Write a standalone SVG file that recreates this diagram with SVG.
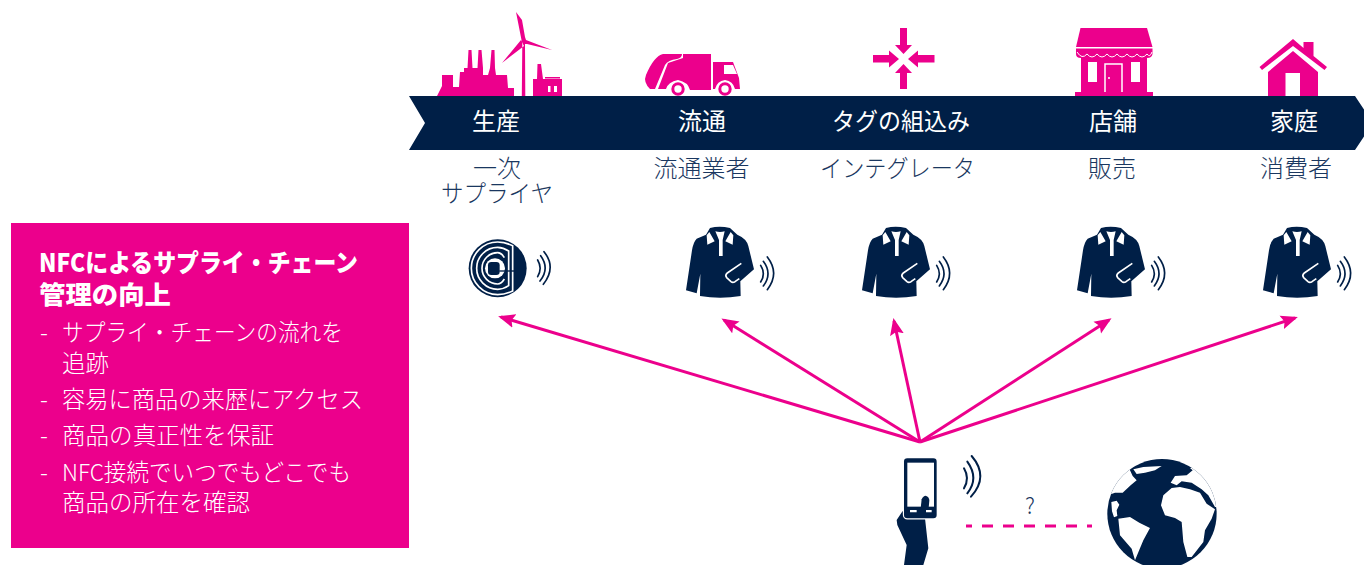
<svg xmlns="http://www.w3.org/2000/svg" xmlns:xlink="http://www.w3.org/1999/xlink" width="1364" height="565" viewBox="0 0 1364 565">
<style>
text{font-family:"Noto Sans CJK JP","Noto Sans",sans-serif}
.p{fill:#ec008c}.n{fill:#001f47}
.band{font-size:24px;fill:#fff;text-anchor:middle}
.sub{font-size:24px;fill:#1a3760;text-anchor:middle;font-weight:300}
.h{font-size:25px;fill:#fff;font-weight:900}
.b{font-size:23.5px;fill:#fff;font-weight:300}
.w{fill:none;stroke:#001f47;stroke-linecap:round}
.link{stroke:#ec008c;stroke-width:3;fill:none}
</style>
<defs>
<marker id="ah" markerUnits="userSpaceOnUse" markerWidth="18" markerHeight="15" refX="14" refY="7.500" orient="auto"><path d="M17,7.500 L0,0.500 L3,7.500 L0,14.500 Z" fill="#ec008c"/></marker>
<clipPath id="gc"><circle cx="186" cy="185" r="164"/></clipPath>
<g id="shirt">
<path class="n" d="M78,38 L50,50 Q40,60 36,85 L18,205 L50,214 L61,155 L60,222 Q120,233 182,222 L181,178 L222,142 L205,72 Q200,50 172,38 L150,18 Q118,10 90,18 Z"/>
<path fill="#fff" d="M80,40 L88,30 L104,58 L82,68 Z M160,40 L152,30 L136,58 L158,68 Z M106,28 Q120,32 134,28 L128,54 L128,102 L117,102 L117,54 Z"/>
<path fill="none" stroke="#fff" stroke-width="5" d="M184,124 L142,153 Q134,160 140,167 L153,179 Q158,183 165,179 L178,170"/>
<path class="w" stroke-width="5" d="M242,130 Q258,155 242,180 M250,118 Q278,155 250,192 M262,105 Q300,154 262,203"/>
</g>
</defs>

<g id="ribbon"><path class="n" d="M409,96 H1355 L1373,123 L1355,150 H409 L425,123 Z"/></g>

<g id="node-production">
<path class="p" d="M437,96 L442,86 L442,75 H453 V87 H459 L460,72 H464 V68 H467.500 L468.500,50 H471.500 L472.500,68 H477.500 L478.500,50 H481.500 L483,68 V75 H488 L490,68 L491.500,50 H494.500 L495,68 L496,75 H507 L508,88 H514 V96 Z"/>
<path class="p" d="M521.800,96 L522.300,44 L516,12 L522,20 L525,37 L526,40 L552,50 L527,44 L525,44 L525.300,96 Z M521,40 L502,63 L524,46 Z"/>
<path class="p" d="M533,96 V79 H537 L537.500,64 H541 L543,79 H562 V96 Z M545,77 H560 V78.500 H545 Z"/>
<path fill="#fff" d="M548,86 h2.500 v6 h-2.500 Z M554,86 h3 v6 h-3 Z"/>
<text class="band" x="496" y="130">生産</text>
<text class="sub" x="497" y="177">一次</text>
<text class="sub" x="497" y="202" textLength="112" lengthAdjust="spacingAndGlyphs">サプライヤ</text>
</g>

<g id="node-distribution">
<path class="p" d="M650,89 L655,89 L665,65 Q668,60 677,59 Q682,58 682,54 H663 Q654,56 646,75 Q643,82 650,89 Z"/>
<path class="p" d="M658,89 L668,63 L683,58 V54 H711 V90 H690 Q688,82 678,80 Q668,82 666,89 Z"/>
<path class="p" d="M713,62 H733 L739,78 L740,89 H735 Q733,81 725,80 Q717,81 715,89 H713 Z"/>
<path fill="#fff" d="M724,65 H733 L737,74 H724 Z"/>
<circle cx="678" cy="89" r="5.200" fill="#fff" stroke="#ec008c" stroke-width="3"/>
<circle cx="725" cy="89" r="5.200" fill="#fff" stroke="#ec008c" stroke-width="3"/>
<text class="band" x="702" y="130">流通</text>
<text class="sub" x="701.500" y="177">流通業者</text>
</g>

<g id="node-integration">
<path class="p" d="M900,28 H907 V45 H912 L903.500,54 L895,45 H900 Z M900,89 H907 V73 H912 L903.500,64 L895,73 H900 Z M873,55 H889 V50.500 L899,59 L889,67.500 V62.500 H873 Z M934.500,55 H918 V50.500 L908,59 L918,67.500 V62.500 H934.500 Z"/>
<text class="band" x="901" y="130" textLength="138" lengthAdjust="spacingAndGlyphs">タグの組込み</text>
<text class="sub" x="897.500" y="177" textLength="155" lengthAdjust="spacingAndGlyphs">インテグレータ</text>
</g>

<g id="node-store">
<path class="p" d="M1080.500,28 H1147 L1152.500,47 H1076 Z"/>
<path class="p" d="M1076,48.500 H1152.500 V54 Q1152,58 1147,58 V92 H1153 V96 H1075 V92 H1081 V58 Q1076,58 1076,54 Z"/>
<path fill="none" stroke="#fff" stroke-width="1" d="M1077,52 Q1082,60 1087,54 Q1092,60 1097,54 Q1102,60 1107,54 Q1112,60 1117,54 Q1122,60 1127,54 Q1132,60 1137,54 Q1142,60 1147,54 Q1150,58 1152,52"/>
<path fill="#fff" d="M1088,62 h9 v20 h-9 Z M1131,62 h9 v20 h-9 Z"/>
<path fill="none" stroke="#fff" stroke-width="1.500" d="M1105,92 V64 H1122 V92"/>
<circle cx="1109" cy="78" r="1" fill="#fff"/>
<text class="band" x="1113" y="130">店舗</text>
<text class="sub" x="1112" y="177">販売</text>
</g>

<g id="node-home">
<path class="p" d="M1293,39 L1303.500,48 V42 H1313.500 V56 L1327,67 L1324.500,70 L1293,46 L1262,70 L1259.500,67 Z"/>
<path class="p" d="M1268,96 V72 L1293,51 L1318,72 V96 H1300 V73 H1285.500 V96 Z"/>
<text class="band" x="1294" y="130">家庭</text>
<text class="sub" x="1296" y="177">消費者</text>
</g>

<g id="panel">
<rect class="p" x="11" y="223" width="398" height="325"/>
<text class="h" x="39" y="272" textLength="319" lengthAdjust="spacingAndGlyphs">NFCによるサプライ・チェーン</text>
<text class="h" x="39" y="304" textLength="132" lengthAdjust="spacingAndGlyphs">管理の向上</text>
<text class="b" x="40" y="341">-</text>
<text class="b" x="62" y="341" textLength="281" lengthAdjust="spacingAndGlyphs">サプライ・チェーンの流れを</text>
<text class="b" x="62" y="372">追跡</text>
<text class="b" x="40" y="408">-</text>
<text class="b" x="62" y="408" textLength="301" lengthAdjust="spacingAndGlyphs">容易に商品の来歴にアクセス</text>
<text class="b" x="40" y="444">-</text>
<text class="b" x="62" y="444" textLength="212" lengthAdjust="spacingAndGlyphs">商品の真正性を保証</text>
<text class="b" x="40" y="481">-</text>
<text class="b" x="62" y="481" textLength="289" lengthAdjust="spacingAndGlyphs">NFC接続でいつでもどこでも</text>
<text class="b" x="62" y="511" textLength="188" lengthAdjust="spacingAndGlyphs">商品の所在を確認</text>
</g>

<g id="node-tag" transform="translate(460,235) scale(.3333)">
<circle class="n" cx="113" cy="100" r="87"/>
<g fill="none" stroke="#fff" stroke-width="5">
<path d="M158,32 Q135,21 113,21 A79,79 0 0 0 113,179 Q135,179 158,168 Z"/>
<path d="M146,48 Q130,37 113,37 A63,63 0 0 0 113,163 Q130,163 146,152 Z"/>
<path d="M133,68 Q124,53 113,53 A47,47 0 0 0 113,147 Q124,147 133,132"/>
</g>
<circle cx="105" cy="100" r="30" fill="#fff"/>
<rect class="n" x="84" y="81" width="35" height="39" rx="10"/>
<path fill="none" stroke="#001f47" stroke-width="4" d="M118,108 H170"/>
<path class="w" stroke-width="5" d="M233,75 Q248,100 233,125 M242,62 Q270,100 240,138 M252,50 Q290,97 250,148"/>
</g>

<use id="node-shirt-1" xlink:href="#shirt" href="#shirt" transform="translate(680,222) scale(.3333)"/>
<use id="node-shirt-2" xlink:href="#shirt" href="#shirt" transform="translate(856,222) scale(.3333)"/>
<use id="node-shirt-3" xlink:href="#shirt" href="#shirt" transform="translate(1071,222) scale(.3333)"/>
<use id="node-shirt-4" xlink:href="#shirt" href="#shirt" transform="translate(1257,222) scale(.3333)"/>

<g id="connectors">
<path class="link" marker-end="url(#ah)" d="M920,442 L501,317"/>
<path class="link" marker-end="url(#ah)" d="M920,442 L724,320"/>
<path class="link" marker-end="url(#ah)" d="M920,442 L894,321"/>
<path class="link" marker-end="url(#ah)" d="M920,442 L1109,320"/>
<path class="link" marker-end="url(#ah)" d="M920,442 L1295,318"/>
<path d="M966,526 H1094" stroke="#ec008c" stroke-width="3" stroke-dasharray="6 10 11 10 11 10 11 10 11 10 11 10 5"/>
</g>

<g id="node-phone" transform="translate(890,450) scale(.3333)">
<path class="n" d="M38,183 L20,210 L22,225 L50,285 L42,345 H100 L115,295 L105,205 H48 Z"/>
<rect x="42" y="25" width="98" height="180" rx="10" fill="#fff" stroke="#fff" stroke-width="7"/>
<rect class="n" x="42" y="25" width="98" height="180" rx="10"/>
<rect x="52" y="38" width="80" height="132" fill="#fff"/>
<path class="n" d="M92,175 L95,148 Q100,137 107,137 Q118,140 118,152 L115,185 Z"/>
<path fill="#fff" d="M60,180 h20 v7 h-20 Z M108,180 h17 v7 h-17 Z"/>
<path class="w" stroke-width="6" d="M222,55 Q240,85 222,115 M232,35 Q268,85 232,130 M245,18 Q298,80 243,140"/>
</g>

<text id="q" x="1030" y="514" font-size="22" fill="#1a3760" font-weight="300" text-anchor="middle">?</text>

<g id="node-globe" transform="translate(1100,452) scale(.3333)">
<circle cx="186" cy="185" r="164" class="n"/>
<g fill="#fff" clip-path="url(#gc)">
<path d="M88,50 L0,50 L0,128 L28,128 L45,122 L68,122 L92,100 L110,85 L98,72 Z"/>
<path d="M100,52 L130,45 L185,42 L165,55 L135,62 L110,66 Z"/>
<path d="M34,150 L50,146 L58,158 L50,175 L52,192 L42,196 L36,178 Z"/>
<path d="M55,200 L90,195 L118,212 L150,228 L130,265 L105,325 L95,290 L60,250 Z"/>
<path d="M190,130 L215,108 L240,105 L270,112 L300,122 L320,155 L345,172 L335,200 L315,235 L310,270 L275,315 L262,315 L250,270 L245,210 L225,198 L195,190 L183,160 Z"/>
<path d="M270,48 L278,55 L260,70 L225,72 L212,92 L230,100 L245,88 L275,92 L305,112 L325,130 L345,165 L360,165 L360,40 Z"/>
</g>
</g>
</svg>
